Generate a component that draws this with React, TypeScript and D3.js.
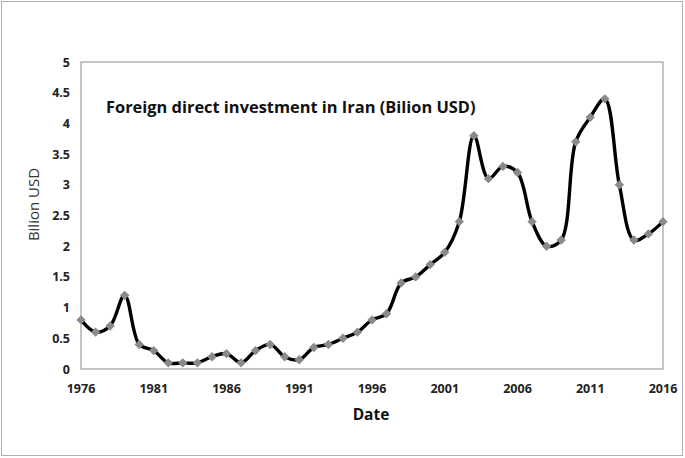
import React from "react";
import * as d3 from "d3";

const years: number[] = [
  1976, 1977, 1978, 1979, 1980, 1981, 1982, 1983, 1984, 1985, 1986, 1987, 1988, 1989,
  1990, 1991, 1992, 1993, 1994, 1995, 1996, 1997, 1998, 1999, 2000, 2001, 2002, 2003,
  2004, 2005, 2006, 2007, 2008, 2009, 2010, 2011, 2012, 2013, 2014, 2015, 2016,
];
const fdi: number[] = [
  0.8, 0.6, 0.7, 1.2, 0.4, 0.3, 0.1, 0.1, 0.1, 0.2, 0.25, 0.1, 0.3, 0.4,
  0.2, 0.15, 0.35, 0.4, 0.5, 0.6, 0.8, 0.9, 1.4, 1.5, 1.7, 1.9, 2.4, 3.8,
  3.1, 3.3, 3.2, 2.4, 2.0, 2.1, 3.7, 4.1, 4.4, 3.0, 2.1, 2.2, 2.4,
];
const xTicks: number[] = [1976, 1981, 1986, 1991, 1996, 2001, 2006, 2011, 2016];
const yTicks: number[] = [0, 0.5, 1, 1.5, 2, 2.5, 3, 3.5, 4, 4.5, 5];

const W = 685;
const H = 458;
const L = 81;
const R = 663;
const T = 62;
const B = 369;
const FONT = "'Open Sans', 'DejaVu Sans', sans-serif";

export default function App() {
  const x = d3.scaleLinear().domain([1976, 2016]).range([L, R]);
  const y = d3.scaleLinear().domain([0, 5]).range([B, T]);
  const pts: [number, number][] = years.map((yr, i) => [x(yr), y(fdi[i])]);
  const line = d3.line().curve(d3.curveCatmullRom.alpha(0.5))(pts) || "";
  const marker = d3.symbol().type(d3.symbolSquare).size(44)() || "";

  return (
    <svg
      width={W}
      height={H}
      style={{ position: "absolute", left: 0, top: 0, background: "#fff" }}
    >
      <rect x={1.5} y={1.5} width={681} height={454} fill="#fff" stroke="#b0b0b0" strokeWidth={1} />
      <rect x={L} y={T} width={R - L} height={B - T} fill="none" stroke="#8c8c8c" strokeWidth={1} />
      {yTicks.map((t) => (
        <text
          key={"y" + t}
          x={70}
          y={y(t)}
          textAnchor="end"
          dominantBaseline="central"
          fontFamily={FONT}
          fontWeight="bold"
          fontSize={12.5}
          fill="#222"
        >
          {String(t)}
        </text>
      ))}
      {xTicks.map((t) => (
        <text
          key={"x" + t}
          x={x(t)}
          y={388}
          textAnchor="middle"
          dominantBaseline="central"
          fontFamily={FONT}
          fontWeight="bold"
          fontSize={12.5}
          fill="#222"
        >
          {String(t)}
        </text>
      ))}
      <path d={line} fill="none" stroke="#000" strokeWidth={3.4} strokeLinejoin="round" />
      {pts.map((p, i) => (
        <path
          key={"m" + i}
          d={marker}
          transform={`translate(${p[0]},${p[1]}) rotate(45)`}
          fill="#8a8a8a"
        />
      ))}
      <text
        x={106}
        y={106}
        dominantBaseline="central"
        fontFamily={FONT}
        fontWeight="bold"
        fontSize={16.4}
        fill="#111"
      >
        Foreign direct investment in Iran (Bilion USD)
      </text>
      <text
        x={371}
        y={414}
        textAnchor="middle"
        dominantBaseline="central"
        fontFamily={FONT}
        fontWeight="bold"
        fontSize={15.5}
        fill="#111"
      >
        Date
      </text>
      <text
        transform={`translate(33,${(T + B) / 2 - 11}) rotate(-90)`}
        textAnchor="middle"
        dominantBaseline="central"
        fontFamily={FONT}
        fontSize={15}
        fill="#333"
      >
        Bilion USD
      </text>
    </svg>
  );
}
